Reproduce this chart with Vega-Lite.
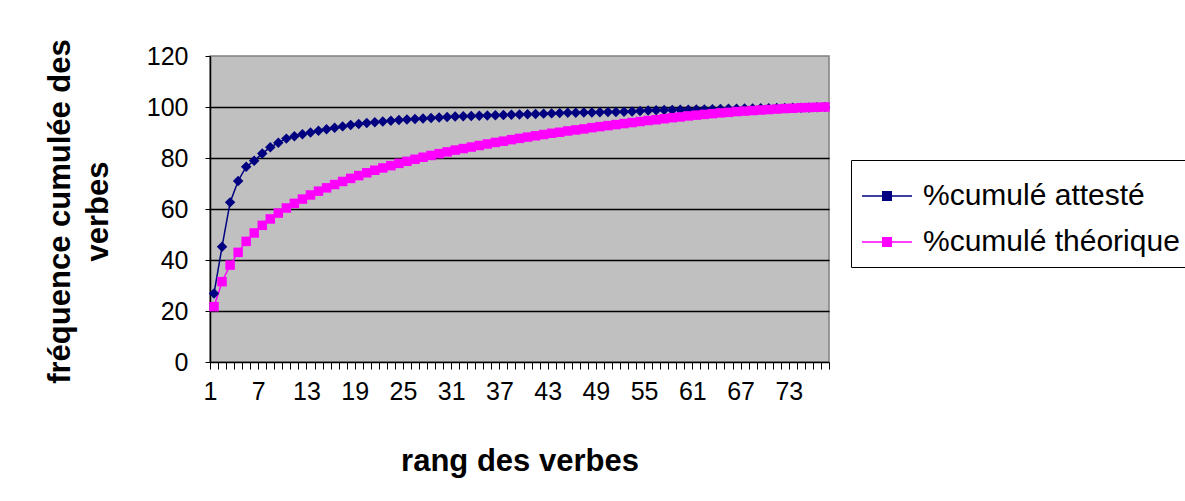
{
"$schema": "https://vega.github.io/schema/vega-lite/v6.json",
"width": 619, "height": 306,
"autosize": {"type": "none"},
"padding": {"left": 210, "top": 56, "right": 356, "bottom": 139},
"background": "white",
"config": {"view": {"fill": "#C0C0C0", "stroke": "#808080", "strokeWidth": 1.5}, "font": "Liberation Sans"},
"data": {"values": [
{"rang":1,"atteste":26.9,"theorique":21.7},
{"rang":2,"atteste":45.2,"theorique":31.5},
{"rang":3,"atteste":62.6,"theorique":38.0},
{"rang":4,"atteste":71.0,"theorique":43.0},
{"rang":5,"atteste":76.6,"theorique":47.3},
{"rang":6,"atteste":78.9,"theorique":50.6},
{"rang":7,"atteste":81.8,"theorique":53.6},
{"rang":8,"atteste":84.2,"theorique":56.1},
{"rang":9,"atteste":86.0,"theorique":58.4},
{"rang":10,"atteste":87.6,"theorique":60.4},
{"rang":11,"atteste":88.5,"theorique":62.2},
{"rang":12,"atteste":89.3,"theorique":63.9},
{"rang":13,"atteste":90.0,"theorique":65.5},
{"rang":14,"atteste":90.7,"theorique":67.0},
{"rang":15,"atteste":91.3,"theorique":68.3},
{"rang":16,"atteste":91.9,"theorique":69.6},
{"rang":17,"atteste":92.4,"theorique":70.8},
{"rang":18,"atteste":92.9,"theorique":72.0},
{"rang":19,"atteste":93.3,"theorique":73.1},
{"rang":20,"atteste":93.7,"theorique":74.2},
{"rang":21,"atteste":94.0,"theorique":75.2},
{"rang":22,"atteste":94.3,"theorique":76.1},
{"rang":23,"atteste":94.6,"theorique":77.0},
{"rang":24,"atteste":94.9,"theorique":77.9},
{"rang":25,"atteste":95.1,"theorique":78.7},
{"rang":26,"atteste":95.3,"theorique":79.5},
{"rang":27,"atteste":95.5,"theorique":80.3},
{"rang":28,"atteste":95.7,"theorique":81.0},
{"rang":29,"atteste":95.9,"theorique":81.7},
{"rang":30,"atteste":96.1,"theorique":82.4},
{"rang":31,"atteste":96.3,"theorique":83.1},
{"rang":32,"atteste":96.4,"theorique":83.7},
{"rang":33,"atteste":96.5,"theorique":84.3},
{"rang":34,"atteste":96.6,"theorique":84.9},
{"rang":35,"atteste":96.7,"theorique":85.5},
{"rang":36,"atteste":96.8,"theorique":86.1},
{"rang":37,"atteste":96.9,"theorique":86.6},
{"rang":38,"atteste":97.0,"theorique":87.2},
{"rang":39,"atteste":97.1,"theorique":87.7},
{"rang":40,"atteste":97.2,"theorique":88.2},
{"rang":41,"atteste":97.3,"theorique":88.7},
{"rang":42,"atteste":97.4,"theorique":89.2},
{"rang":43,"atteste":97.5,"theorique":89.7},
{"rang":44,"atteste":97.6,"theorique":90.1},
{"rang":45,"atteste":97.7,"theorique":90.6},
{"rang":46,"atteste":97.7,"theorique":91.0},
{"rang":47,"atteste":97.8,"theorique":91.4},
{"rang":48,"atteste":97.8,"theorique":91.9},
{"rang":49,"atteste":97.9,"theorique":92.3},
{"rang":50,"atteste":98.0,"theorique":92.7},
{"rang":51,"atteste":98.0,"theorique":93.1},
{"rang":52,"atteste":98.1,"theorique":93.5},
{"rang":53,"atteste":98.2,"theorique":93.9},
{"rang":54,"atteste":98.4,"theorique":94.3},
{"rang":55,"atteste":98.6,"theorique":94.7},
{"rang":56,"atteste":98.7,"theorique":95.0},
{"rang":57,"atteste":98.8,"theorique":95.4},
{"rang":58,"atteste":98.8,"theorique":95.8},
{"rang":59,"atteste":98.9,"theorique":96.1},
{"rang":60,"atteste":98.9,"theorique":96.5},
{"rang":61,"atteste":99.0,"theorique":96.8},
{"rang":62,"atteste":99.0,"theorique":97.1},
{"rang":63,"atteste":99.1,"theorique":97.4},
{"rang":64,"atteste":99.2,"theorique":97.7},
{"rang":65,"atteste":99.3,"theorique":97.9},
{"rang":66,"atteste":99.3,"theorique":98.2},
{"rang":67,"atteste":99.4,"theorique":98.4},
{"rang":68,"atteste":99.4,"theorique":98.6},
{"rang":69,"atteste":99.5,"theorique":98.8},
{"rang":70,"atteste":99.5,"theorique":99.0},
{"rang":71,"atteste":99.6,"theorique":99.2},
{"rang":72,"atteste":99.6,"theorique":99.4},
{"rang":73,"atteste":99.7,"theorique":99.5},
{"rang":74,"atteste":99.7,"theorique":99.7},
{"rang":75,"atteste":99.8,"theorique":99.8},
{"rang":76,"atteste":99.9,"theorique":99.9},
{"rang":77,"atteste":100.0,"theorique":100.0}
]},
"transform": [{"fold": ["atteste", "theorique"], "as": ["serie", "valeur"]}],
"encoding": {
  "x": {"field": "rang", "type": "quantitative",
    "scale": {"domain": [0.5, 77.5], "nice": false, "zero": false},
    "axis": {
      "values": [0.5,1.5,2.5,3.5,4.5,5.5,6.5,7.5,8.5,9.5,10.5,11.5,12.5,13.5,14.5,15.5,16.5,17.5,18.5,19.5,20.5,21.5,22.5,23.5,24.5,25.5,26.5,27.5,28.5,29.5,30.5,31.5,32.5,33.5,34.5,35.5,36.5,37.5,38.5,39.5,40.5,41.5,42.5,43.5,44.5,45.5,46.5,47.5,48.5,49.5,50.5,51.5,52.5,53.5,54.5,55.5,56.5,57.5,58.5,59.5,60.5,61.5,62.5,63.5,64.5,65.5,66.5,67.5,68.5,69.5,70.5,71.5,72.5,73.5,74.5,75.5,76.5,77.5],
      "labelExpr": "(datum.value - 0.5) % 6 == 0 && datum.value < 77 ? format(datum.value + 0.5, 'd') : ''",
      "labelOverlap": false, "labelFlush": false, "labelDx": 4, "labelAlign": "center",
      "grid": false,
      "domainColor": "black", "domainWidth": 1.5,
      "tickColor": "black", "tickSize": 7, "tickWidth": 1,
      "labelFont": "Liberation Sans", "labelFontSize": 25, "labelColor": "black", "labelPadding": 10,
      "title": "rang des verbes", "titleFont": "Liberation Sans", "titleFontSize": 31, "titleFontWeight": "bold", "titleColor": "black",
      "titleY": 108, "titleBaseline": "alphabetic"
    }},
  "y": {"field": "valeur", "type": "quantitative",
    "scale": {"domain": [0, 120], "nice": false},
    "axis": {
      "values": [0, 20, 40, 60, 80, 100, 120],
      "grid": true,
      "gridColor": {"condition": {"test": "datum.value == 0 || datum.value == 120", "value": "transparent"}, "value": "black"},
      "gridWidth": 1.5,
      "domainColor": "black", "domainWidth": 1.5,
      "tickColor": "black", "tickSize": 5, "tickWidth": 1,
      "labelFont": "Liberation Sans", "labelFontSize": 25, "labelColor": "black", "labelPadding": 17,
      "title": ["fréquence cumulée des", "verbes"],
      "titleFont": "Liberation Sans", "titleFontSize": 31, "titleFontWeight": "bold", "titleColor": "black",
      "titleLineHeight": 38, "titleX": -150, "titleY": 155, "titleBaseline": "middle", "titleAngle": -90, "titleAlign": "center"
    }},
  "color": {"field": "serie", "type": "nominal",
    "scale": {"domain": ["atteste", "theorique"], "range": ["#000080", "#FF00FF"]},
    "legend": {
      "orient": "none", "legendX": 641, "legendY": 104, "title": null,
      "strokeColor": "black", "fillColor": "white", "padding": 10,
      "labelFont": "Liberation Sans", "labelFontSize": 30, "labelColor": "black", "labelOffset": 10, "labelLimit": 500,
      "rowPadding": 5, "symbolSize": 2500, "symbolStrokeWidth": 1.5,
      "labelExpr": "datum.value == 'atteste' ? '%cumulé attesté' : '%cumulé théorique'",
      "encode": {"symbols": {"update": {
        "shape": {"condition": {"test": "datum.value == 'atteste'", "value": "M-1,0H1M0,-0.21L0.18,0L0,0.21L-0.18,0Z"}, "value": "M-1,0H1M-0.17,-0.17H0.17V0.17H-0.17Z"},
        "fill": {"condition": {"test": "datum.value == 'atteste'", "value": "#000080"}, "value": "#FF00FF"},
        "stroke": {"condition": {"test": "datum.value == 'atteste'", "value": "#000080"}, "value": "#FF00FF"}
      }}}
    }}
},
"layer": [
  {"mark": {"type": "line", "strokeWidth": 1.5}},
  {"transform": [{"filter": "datum.serie == 'atteste'"}],
   "mark": {"type": "point", "filled": true, "opacity": 1, "shape": "diamond", "size": 110}},
  {"transform": [{"filter": "datum.serie == 'theorique'"}],
   "mark": {"type": "point", "filled": true, "opacity": 1, "shape": "square", "size": 90}}
]
}
